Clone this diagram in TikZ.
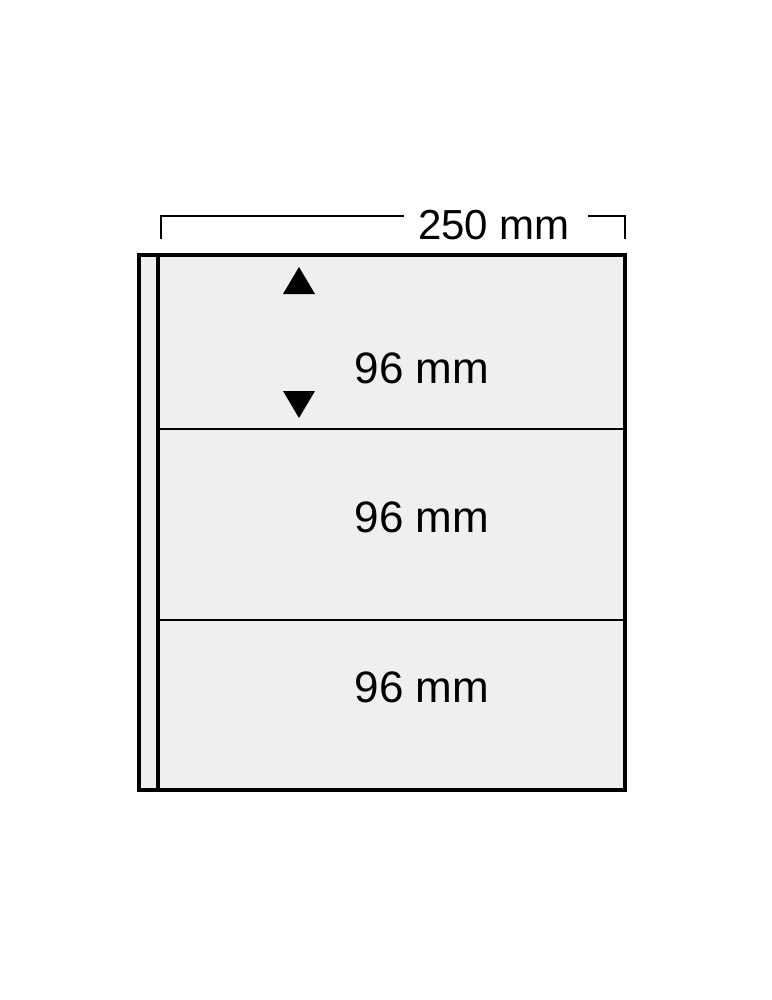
\documentclass[tikz,border=0pt]{standalone}
\usepackage{fontspec}
\setmainfont{Liberation Sans}
\begin{document}
\begin{tikzpicture}[x=1pt,y=-1pt,
  lbl/.style={anchor=base,inner sep=0pt,font=\fontsize{44}{48}\selectfont},
  dimlbl/.style={anchor=base,inner sep=0pt,font=\fontsize{42}{46}\selectfont},
  frame/.style={line width=4pt},
  divider/.style={line width=2pt},
  dimline/.style={line width=1.6pt},
  tri/.style={fill=black,draw=none}]
\useasboundingbox (0,0) rectangle (771,1000);
\fill[white] (0,0) rectangle (771,1000);
% sheet
\fill[fill={rgb,255:red,239;green,239;blue,239}] (138.5,254.5) rectangle (624.5,790);
\draw[frame] (138.5,254.5) rectangle (624.5,790);
\draw[frame] (158,254.5) -- (158,790);
\coordinate (d1l) at (158,429);
\coordinate (d1r) at (624.5,429);
\coordinate (d2l) at (158,620);
\coordinate (d2r) at (624.5,620);
\draw[divider] (d1l) -- (d1r);
\draw[divider] (d2l) -- (d2r);
% labels
\node[lbl] (t1) at (422,383) {96 mm};
\node[lbl] (t2) at (422,532) {96 mm};
\node[lbl] (t3) at (422,702) {96 mm};
% arrows (triangles)
\fill[tri] (299,267) -- (315,294) -- (283,294) -- cycle;
\fill[tri] (283,391) -- (315,391) -- (299,418) -- cycle;
% dimension
\node[dimlbl] (w) at (494,240) {250 mm};
\coordinate (al) at (161,239);
\coordinate (alt) at (161,216);
\coordinate (am) at (404,216);
\coordinate (bm) at (588,216);
\coordinate (bt) at (625,216);
\coordinate (br) at (625,239);
\draw[dimline] (al) -- (alt) -- (am);
\draw[dimline] (bm) -- (bt) -- (br);
\end{tikzpicture}
\end{document}
